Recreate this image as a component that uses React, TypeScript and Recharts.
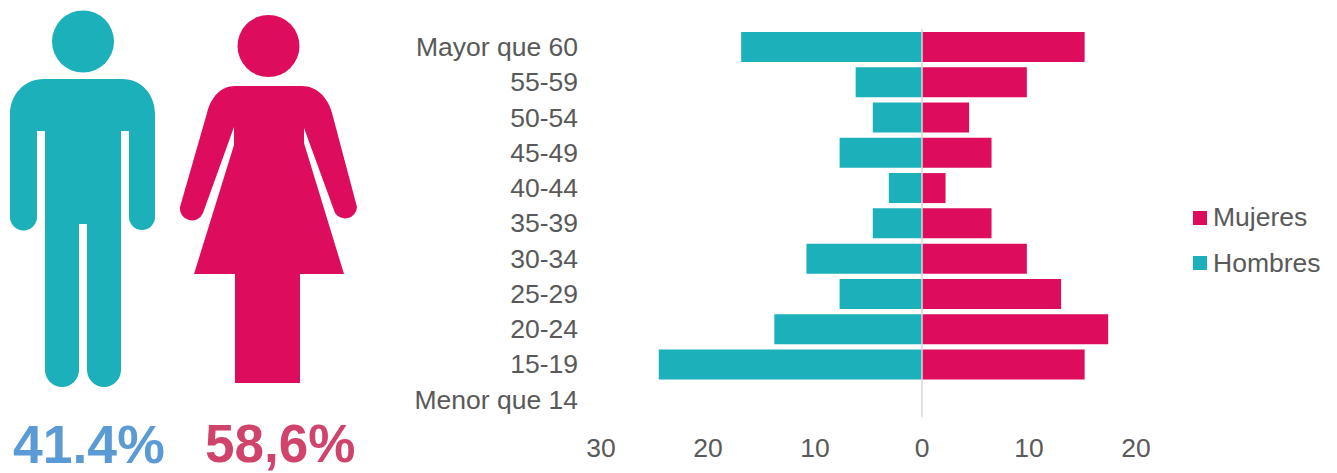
import { BarChart, Bar, XAxis, YAxis, ReferenceLine, Legend } from 'recharts';

const ageGroups = ['Mayor que 60', '55-59', '50-54', '45-49', '40-44', '35-39', '30-34', '25-29', '20-24', '15-19', 'Menor que 14'];
const mujeres = [15.2, 9.8, 4.4, 6.5, 2.2, 6.5, 9.8, 13, 17.4, 15.2, 0];
const hombres = [16.9, 6.2, 4.6, 7.7, 3.1, 4.6, 10.8, 7.7, 13.8, 24.6, 0];
const xTicks = [-30, -20, -10, 0, 10, 20];

const data = ageGroups.map((age, i) => ({ age, Mujeres: mujeres[i], Hombres: -hombres[i] }));

const TEAL = '#1cb0bb';
const PINK = '#dd0c5c';
const GREY = '#595959';
const FONT = '"Liberation Sans", Arial, sans-serif';

const manPath =
  'M44 79 H122 C142 79 155 95 155 114 V217 A13 13 0 0 1 129 217 V131 H121 V370 A17 17 0 0 1 87 370 V224 H79 V370 A17 17 0 0 1 45 370 V131 H37 V217 A13.5 13.5 0 0 1 10 217 V114 C10 95 24 79 44 79 Z';
const womanPath =
  'M235 86 H302 C316 86 328 97 332 113 L357 207 A12 12 0 0 1 335 213 L304 128 V143 L344 274 H300 V383 H235 V274 H194 L234 145 V127 L203 213 A12 12 0 0 1 180 207 L207 113 C211 97 221 86 235 86 Z';

function Pictograms() {
  return (
    <svg width={380} height={473} style={{ position: 'absolute', left: 0, top: 0 }}>
      <circle cx={83} cy={41.5} r={31} fill={TEAL} />
      <path d={manPath} fill={TEAL} />
      <circle cx={268.5} cy={46} r={31} fill={PINK} />
      <path d={womanPath} fill={PINK} />
      <text x={13} y={463} fontFamily={FONT} fontWeight="bold" fontSize={53.5} fill="#5b9bd5">41.4%</text>
      <text x={205} y={462} fontFamily={FONT} fontWeight="bold" fontSize={53} fill="#d0436b">58,6%</text>
    </svg>
  );
}

function LegendBox({ payload }: any) {
  return (
    <div style={{ fontFamily: FONT, fontSize: 26.5, color: GREY, width: 144 }}>
      {(payload || []).map((item: any) => (
        <div key={item.value} style={{ display: 'flex', alignItems: 'center', height: 45.5 }}>
          <span style={{ width: 14, height: 14, background: item.color, marginRight: 6 }} />
          {item.value}
        </div>
      ))}
    </div>
  );
}

export default function App() {
  return (
    <div style={{ position: 'absolute', left: 0, top: 0, width: 1337, height: 473, background: '#fff' }}>
      <Pictograms />
      <BarChart
        width={1337}
        height={473}
        data={data}
        layout="vertical"
        stackOffset="sign"
        barSize={30}
        margin={{ top: 29, right: 57, bottom: 0, left: 0 }}
        style={{ position: 'absolute', left: 0, top: 0 }}
      >
        <XAxis
          type="number"
          domain={[-30, 20]}
          ticks={xTicks}
          tickFormatter={(v: number) => String(Math.abs(v))}
          axisLine={false}
          tickLine={false}
          tickMargin={15}
          height={56}
          tick={{ fill: GREY, fontSize: 26.5, fontFamily: FONT }}
        />
        <YAxis
          type="category"
          dataKey="age"
          width={601}
          axisLine={false}
          tickLine={false}
          tickMargin={17}
          interval={0}
          tick={{ fill: GREY, fontSize: 26.5, fontFamily: FONT }}
        />
        <Bar dataKey="Mujeres" stackId="a" fill={PINK} isAnimationActive={false} />
        <Bar dataKey="Hombres" stackId="a" fill={TEAL} isAnimationActive={false} />
        <ReferenceLine x={0} stroke="#d9d9d9" strokeWidth={1.5} />
        <Legend
          layout="vertical"
          align="right"
          verticalAlign="middle"
          itemSorter={null}
          content={<LegendBox />}
          wrapperStyle={{ left: 1193, top: 195, width: 144 }}
        />
      </BarChart>
    </div>
  );
}
